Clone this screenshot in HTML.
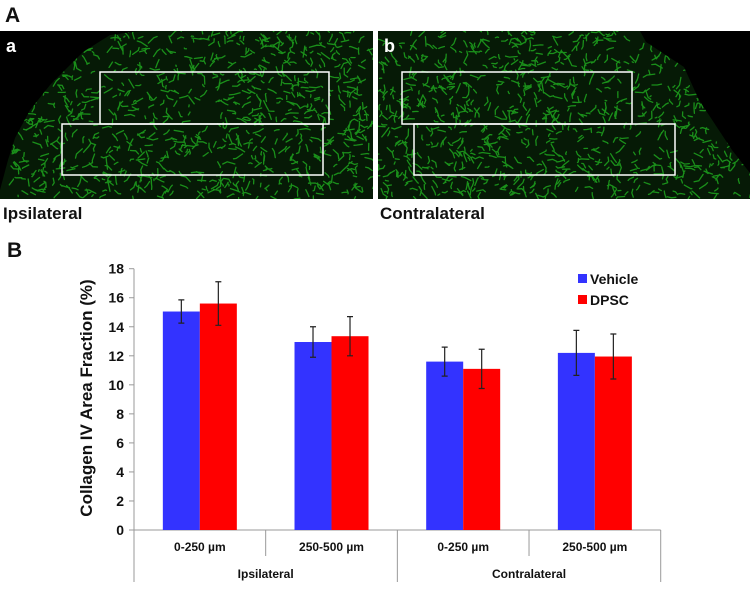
<!DOCTYPE html>
<html><head><meta charset="utf-8"><style>
html,body{margin:0;padding:0;background:#fff;}
body{width:750px;height:586px;position:relative;overflow:hidden;font-family:"Liberation Sans",sans-serif;}
</style></head><body>
<svg id="fig" width="750" height="586" viewBox="0 0 750 586" xmlns="http://www.w3.org/2000/svg">
  <defs>
    <clipPath id="clipL"><rect x="0" y="31" width="373" height="168"/></clipPath>
    <clipPath id="clipR"><rect x="378" y="31" width="372" height="168"/></clipPath>
  </defs>
  <text x="5" y="22" font-size="21" font-weight="bold" fill="#111" font-family="Liberation Sans, sans-serif">A</text>
  <g id="micL" clip-path="url(#clipL)">
    <rect x="0" y="31" width="373" height="168" fill="#000"/>
    <path id="tisL" d="M0,199 L0,190 L8,160 L15,138 L30,110 L50,85 L83,52 L110,35 L140,31 L373,31 L373,199 Z" fill="#061a06"/>
  </g>
  <g id="micR" clip-path="url(#clipR)">
    <rect x="378" y="31" width="372" height="168" fill="#000"/>
    <path id="tisR" d="M378,31 L640,31 L646,42 L684,67 L699,100 L732,150 L750,173 L750,199 L378,199 Z" fill="#061a06"/>
  </g>
  <rect x="100" y="72" width="229" height="52" fill="none" stroke="#fff" stroke-width="1.5"/>
  <rect x="62" y="124" width="261" height="51" fill="none" stroke="#fff" stroke-width="1.5"/>
  <rect x="402" y="72" width="230" height="52" fill="none" stroke="#fff" stroke-width="1.5"/>
  <rect x="414" y="124" width="261" height="51" fill="none" stroke="#fff" stroke-width="1.5"/>
  <text x="6" y="52" font-size="18" font-weight="bold" fill="#fff">a</text>
  <text x="384" y="52" font-size="18" font-weight="bold" fill="#fff">b</text>
  <text x="3" y="219" font-size="17" font-weight="bold" fill="#111">Ipsilateral</text>
  <text x="380" y="219" font-size="17" font-weight="bold" fill="#111">Contralateral</text>
  <text x="7" y="257" font-size="21" font-weight="bold" fill="#111">B</text>
  <g id="chart"></g>
</svg>
<script>
// ---- chart data ----
const categories = ["0-250 µm","250-500 µm","0-250 µm","250-500 µm"];
const groups = ["Ipsilateral","Contralateral"];
const seriesNames = ["Vehicle","DPSC"];
const vehicleValues = [15.05, 12.95, 11.6, 12.2];
const dpscValues = [15.6, 13.35, 11.1, 11.95];
const vehicleErr = [0.8, 1.05, 1.0, 1.55];
const dpscErr = [1.5, 1.35, 1.35, 1.55];
const yTicks = [0,2,4,6,8,10,12,14,16,18];

const NS="http://www.w3.org/2000/svg";
const chart=document.getElementById('chart');
const x0=134, x1=660.7, yBase=530, yTop=268.7, yMax=18;
const gw=(x1-x0)/categories.length, bw=37;
function yScale(v){return yBase-(v/yMax)*(yBase-yTop);}
function xCenter(i){return x0+gw*(i+0.5);}
function mk(tag,attrs,parent){const e=document.createElementNS(NS,tag);for(const k in attrs)e.setAttribute(k,attrs[k]);(parent||chart).appendChild(e);return e;}

// y axis
let ax=mk('line',{x1:x0,y1:yTop,x2:x0,y2:582,stroke:'#999','stroke-width':1});


yTicks.forEach(t=>{
  const y=yScale(t);
  let tk=mk('line',{x1:x0-5,y1:y,x2:x0,y2:y,stroke:'#999'});
  
  
  let lb=mk('text',{x:x0-10,y:y+5,'text-anchor':'end','font-size':14,'font-weight':'bold',fill:'#111'});
  lb.textContent=t;
  
  
});
let yt=mk('text',{x:0,y:0,transform:'translate(92,398) rotate(-90)','text-anchor':'middle','font-size':17,'font-weight':'bold',fill:'#111'});
yt.textContent='Collagen IV Area Fraction (%)';



// x axis
let xa=mk('line',{x1:x0,y1:yBase,x2:x1,y2:yBase,stroke:'#999'});


for(let i=1;i<=categories.length;i++){
  const x=x0+gw*i, outer=(i%2===0);
  let d=mk('line',{x1:x,y1:yBase,x2:x,y2:outer?582:556,stroke:'#999'});
  
  
}
categories.forEach((c,i)=>{
  let t=mk('text',{x:xCenter(i),y:551,'text-anchor':'middle','font-size':12,'font-weight':'bold',fill:'#111'});
  t.textContent=c;
  
  
});
groups.forEach((g,i)=>{
  let t=mk('text',{x:x0+gw*(2*i+1),y:578,'text-anchor':'middle','font-size':12,'font-weight':'bold',fill:'#111'});
  t.textContent=g;
  
  
});

// bars
const colors=['#3333ff','#ff0000'];
[vehicleValues,dpscValues].forEach((vals,s)=>{
  const errs=s===0?vehicleErr:dpscErr;
  vals.forEach((v,i)=>{
    const bx=xCenter(i)-bw+s*bw, y=yScale(v);
    let r=mk('rect',{x:bx,y:y,width:bw,height:yBase-y,fill:colors[s]});
    
    
    const cx=bx+bw/2, yh=yScale(v+errs[i]), yl=yScale(v-errs[i]);
    let e=mk('path',{d:`M${cx},${yh}V${yl}M${cx-3},${yh}H${cx+3}M${cx-3},${yl}H${cx+3}`,stroke:'#222','stroke-width':1.2,fill:'none'});
    
    
  });
});

// legend
seriesNames.forEach((n,s)=>{
  const y=274+s*21;
  let sw=mk('rect',{x:578,y:y,width:9,height:9,fill:colors[s]});
  
  
  let t=mk('text',{x:590,y:y+10,'font-size':14,'font-weight':'bold',fill:'#111'});
  t.textContent=n;
  
  
});

// ---- microscopy texture (decorative) ----
let seed=12345;
function rnd(){seed=(seed*1103515245+12345)%2147483648;return seed/2147483648;}
function texture(gid,clipD,xmin,xmax){
  const g=document.getElementById(gid);
  const tg=document.createElementNS(NS,'g');
  const cp=document.createElementNS(NS,'clipPath');cp.setAttribute('id',gid+'t');
  const p=document.createElementNS(NS,'path');p.setAttribute('d',clipD);cp.appendChild(p);
  document.querySelector('defs').appendChild(cp);
  tg.setAttribute('clip-path','url(#'+gid+'t)');
  let d='';
  for(let k=0;k<900;k++){
    const x=xmin+rnd()*(xmax-xmin), y=31+rnd()*168;
    const a=rnd()*Math.PI*2, l=1+rnd()*7;
    const x2=x+Math.cos(a)*l,y2=y+Math.sin(a)*l;
    const a2=a+(rnd()-0.5)*2,l2=rnd()*5;
    d+=`M${x.toFixed(1)},${y.toFixed(1)}L${x2.toFixed(1)},${y2.toFixed(1)}L${(x2+Math.cos(a2)*l2).toFixed(1)},${(y2+Math.sin(a2)*l2).toFixed(1)}`;
  }
  const pp=document.createElementNS(NS,'path');
  pp.setAttribute('d',d);pp.setAttribute('stroke','#1fa51f');pp.setAttribute('stroke-width','1.3');
  pp.setAttribute('fill','none');pp.setAttribute('stroke-linecap','round');pp.setAttribute('opacity','0.85');
  tg.appendChild(pp);g.appendChild(tg);
}
texture('micL',document.getElementById('tisL').getAttribute('d'),0,373);
texture('micR',document.getElementById('tisR').getAttribute('d'),378,750);
</script>
</body></html>
